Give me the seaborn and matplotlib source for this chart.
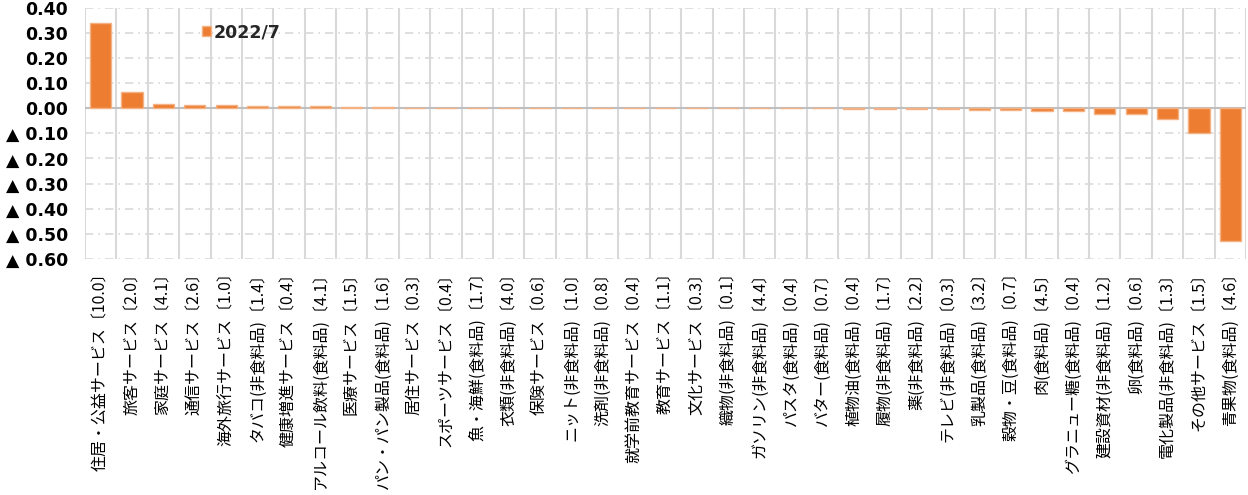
import numpy as np
import pandas as pd
import matplotlib
matplotlib.use("Agg")
import matplotlib.pyplot as plt
from matplotlib.ticker import FuncFormatter, FixedLocator
import seaborn as sns

# Contribution by item (percentage points); weight in brackets
categories = [
    "住居・公益サービス〔10.0〕", "旅客サービス〔2.0〕", "家庭サービス〔4.1〕", "通信サービス〔2.6〕",
    "海外旅行サービス〔1.0〕", "タバコ(非食料品)〔1.4〕", "健康増進サービス〔0.4〕",
    "アルコール飲料(食料品)〔4.1〕", "医療サービス〔1.5〕", "パン・パン製品(食料品)〔1.6〕",
    "居住サービス〔0.3〕", "スポーツサービス〔0.4〕", "魚・海鮮(食料品)〔1.7〕",
    "衣類(非食料品)〔4.0〕", "保険サービス〔0.6〕", "ニット(非食料品)〔1.0〕",
    "洗剤(非食料品)〔0.8〕", "就学前教育サービス〔0.4〕", "教育サービス〔1.1〕",
    "文化サービス〔0.3〕", "織物(非食料品)〔0.1〕", "ガソリン(非食料品)〔4.4〕",
    "パスタ(食料品)〔0.4〕", "バター(食料品)〔0.7〕", "植物油(食料品)〔0.4〕",
    "履物(非食料品)〔1.7〕", "薬(非食料品)〔2.2〕", "テレビ(非食料品)〔0.3〕",
    "乳製品(食料品)〔3.2〕", "穀物・豆(食料品)〔0.7〕", "肉(食料品)〔4.5〕",
    "グラニュー糖(食料品)〔0.4〕", "建設資材(非食料品)〔1.2〕", "卵(食料品)〔0.6〕",
    "電化製品(非食料品)〔1.3〕", "その他サービス〔1.5〕", "青果物(食料品)〔4.6〕",
]
values = [
    0.337, 0.063, 0.017, 0.013, 0.011, 0.008, 0.008, 0.007, 0.005, 0.004,
    0.002, 0.002, 0.001, 0.001, 0.0, 0.0, 0.0, 0.0, 0.0, 0.0,
    0.0, -0.0005, -0.001, -0.001, -0.003, -0.003, -0.003, -0.003, -0.006, -0.008,
    -0.013, -0.013, -0.023, -0.025, -0.043, -0.100, -0.530,
]
series_name = "2022/7"
y_ticks = [0.40, 0.30, 0.20, 0.10, 0.00, -0.10, -0.20, -0.30, -0.40, -0.50, -0.60]

df = pd.DataFrame({"item": categories, "value": values, "series": series_name})

sns.set_theme(style="white")
plt.rcParams["font.family"] = ["Noto Sans CJK JP", "DejaVu Sans"]
num_font = ["DejaVu Sans", "Noto Sans CJK JP"]

fig = plt.figure(figsize=(12.48, 4.95), dpi=100)
ax = fig.add_axes([0.0681, 0.4768, 0.9303, 0.5078])

sns.barplot(data=df, x="item", y="value", hue="series", palette=["#ED7D31"],
            saturation=1, width=0.68, edgecolor="#F4B183", linewidth=1.0,
            ax=ax, zorder=3)

ax.set_ylim(-0.60, 0.40)
ax.set_xlim(-0.5, len(categories) - 0.5)

# y axis: negatives shown with a triangle mark
ax.yaxis.set_major_locator(FixedLocator(y_ticks))
def fmt(v, pos):
    if v < -1e-9:
        return f"▲ {abs(v):.2f}"
    return f"{v:.2f}"
ax.yaxis.set_major_formatter(FuncFormatter(fmt))
ax.tick_params(axis="y", length=0, pad=12, labelcolor="#000000")
for lbl in ax.get_yticklabels():
    lbl.set_fontfamily(num_font)
    lbl.set_fontsize(12.5)
    lbl.set_fontweight("bold")

# x axis labels, vertical
ax.set_xticks(range(len(categories)))
ax.set_xticklabels(categories, rotation=90, fontsize=11.5, color="#000000")
ax.tick_params(axis="x", length=0, pad=4)

# category separators and dash-dot value grid
ax.set_xticks(np.arange(-0.5, len(categories), 1), minor=True)
ax.tick_params(axis="x", which="minor", length=0)
ax.grid(axis="x", which="minor", color="#D9D9D9", linewidth=1.5, linestyle="-", zorder=0)
ax.grid(axis="x", which="major", visible=False)
ax.grid(axis="y", which="major", color="#D9D9D9", linewidth=1.2, linestyle=(0, (5, 3, 1, 3)), zorder=0)
ax.axhline(0, color="#BFBFBF", linewidth=1.5, zorder=2)

for s in ax.spines.values():
    s.set_visible(False)

ax.set_xlabel("")
ax.set_ylabel("")

leg = ax.legend(loc="upper left", bbox_to_anchor=(0.095, 0.965), frameon=False,
                handlelength=0.5, handleheight=0.5, handletextpad=0.15,
                prop={"family": num_font, "size": 12.5, "weight": "bold"},
                borderaxespad=0)

fig.savefig("out.png", dpi=100, facecolor="white")
